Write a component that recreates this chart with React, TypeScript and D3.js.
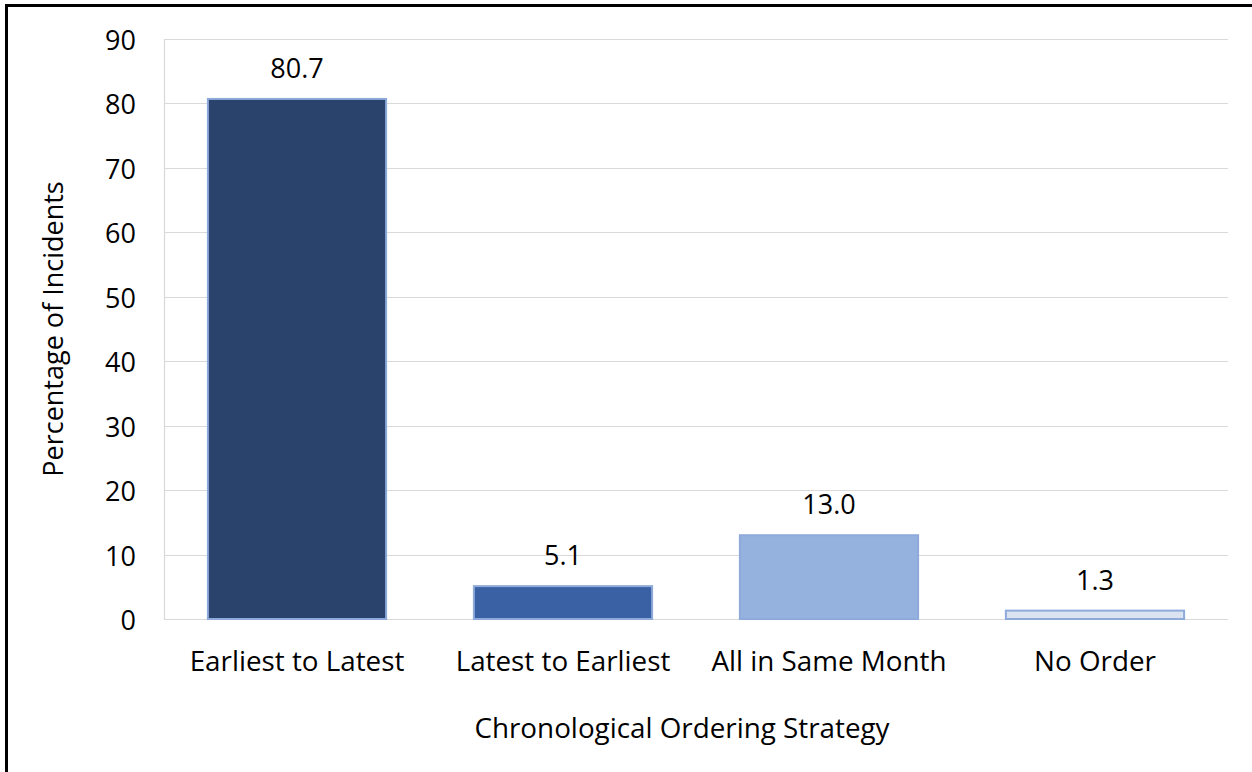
import React from "react";
import * as d3 from "d3";

const categories = ["Earliest to Latest", "Latest to Earliest", "All in Same Month", "No Order"];
const values = [80.7, 5.1, 13.0, 1.3];
const yTicks = [0, 10, 20, 30, 40, 50, 60, 70, 80, 90];
const fills = ["#29436D", "#3A61A3", "#95B1DE", "#DCE3F0"];

const W = 1252;
const H = 772;
const left = 164;
const right = 1228;
const top = 39;
const bottom = 619;
const font = "'Open Sans', sans-serif";
const fs = 27;
const fsX = 27.8;

export default function App() {
  const x = d3.scaleBand<string>().domain(categories).range([left, right]).paddingInner(0.33).paddingOuter(0.165);
  const y = d3.scaleLinear().domain([0, 90]).range([bottom, top]);
  return (
    <svg width={W} height={H} style={{ position: "absolute", left: 0, top: 0, background: "#fff" }}>
      <rect x={0} y={0} width={W} height={H} fill="#fff" />
      <line x1={5} y1={5.5} x2={W} y2={5.5} stroke="#000" strokeWidth={3} />
      <line x1={6.5} y1={4} x2={6.5} y2={H} stroke="#000" strokeWidth={3} />
      {yTicks.map((t) => (
        <g key={t}>
          <line x1={left} x2={right} y1={Math.round(y(t)) + 0.5} y2={Math.round(y(t)) + 0.5} stroke="#D9D9D9" strokeWidth={1.2} />
          <text x={136} y={y(t) + 11} textAnchor="end" fontFamily={font} fontSize={fs} fill="#000">
            {t}
          </text>
        </g>
      ))}
      <line x1={left + 0.5} x2={left + 0.5} y1={top} y2={bottom} stroke="#D9D9D9" strokeWidth={1.2} />
      {categories.map((c, i) => (
        <g key={c}>
          <rect
            x={x(c)!}
            y={y(values[i])}
            width={x.bandwidth()}
            height={y(0) - y(values[i])}
            fill={fills[i]}
            stroke="#8EAADB"
            strokeWidth={2}
          />
          <text x={x(c)! + x.bandwidth() / 2} y={y(values[i]) - 21} textAnchor="middle" fontFamily={font} fontSize={fs} fill="#000">
            {values[i].toFixed(1)}
          </text>
          <text x={x(c)! + x.bandwidth() / 2} y={671} textAnchor="middle" fontFamily={font} fontSize={fsX} fill="#000">
            {c}
          </text>
        </g>
      ))}
      <text x={682} y={738} textAnchor="middle" fontFamily={font} fontSize={fsX} fill="#000">
        Chronological Ordering Strategy
      </text>
      <text
        transform={`translate(63, ${(top + bottom) / 2}) rotate(-90)`}
        textAnchor="middle"
        fontFamily={font}
        fontSize={fs}
        fill="#000"
      >
        Percentage of Incidents
      </text>
    </svg>
  );
}
